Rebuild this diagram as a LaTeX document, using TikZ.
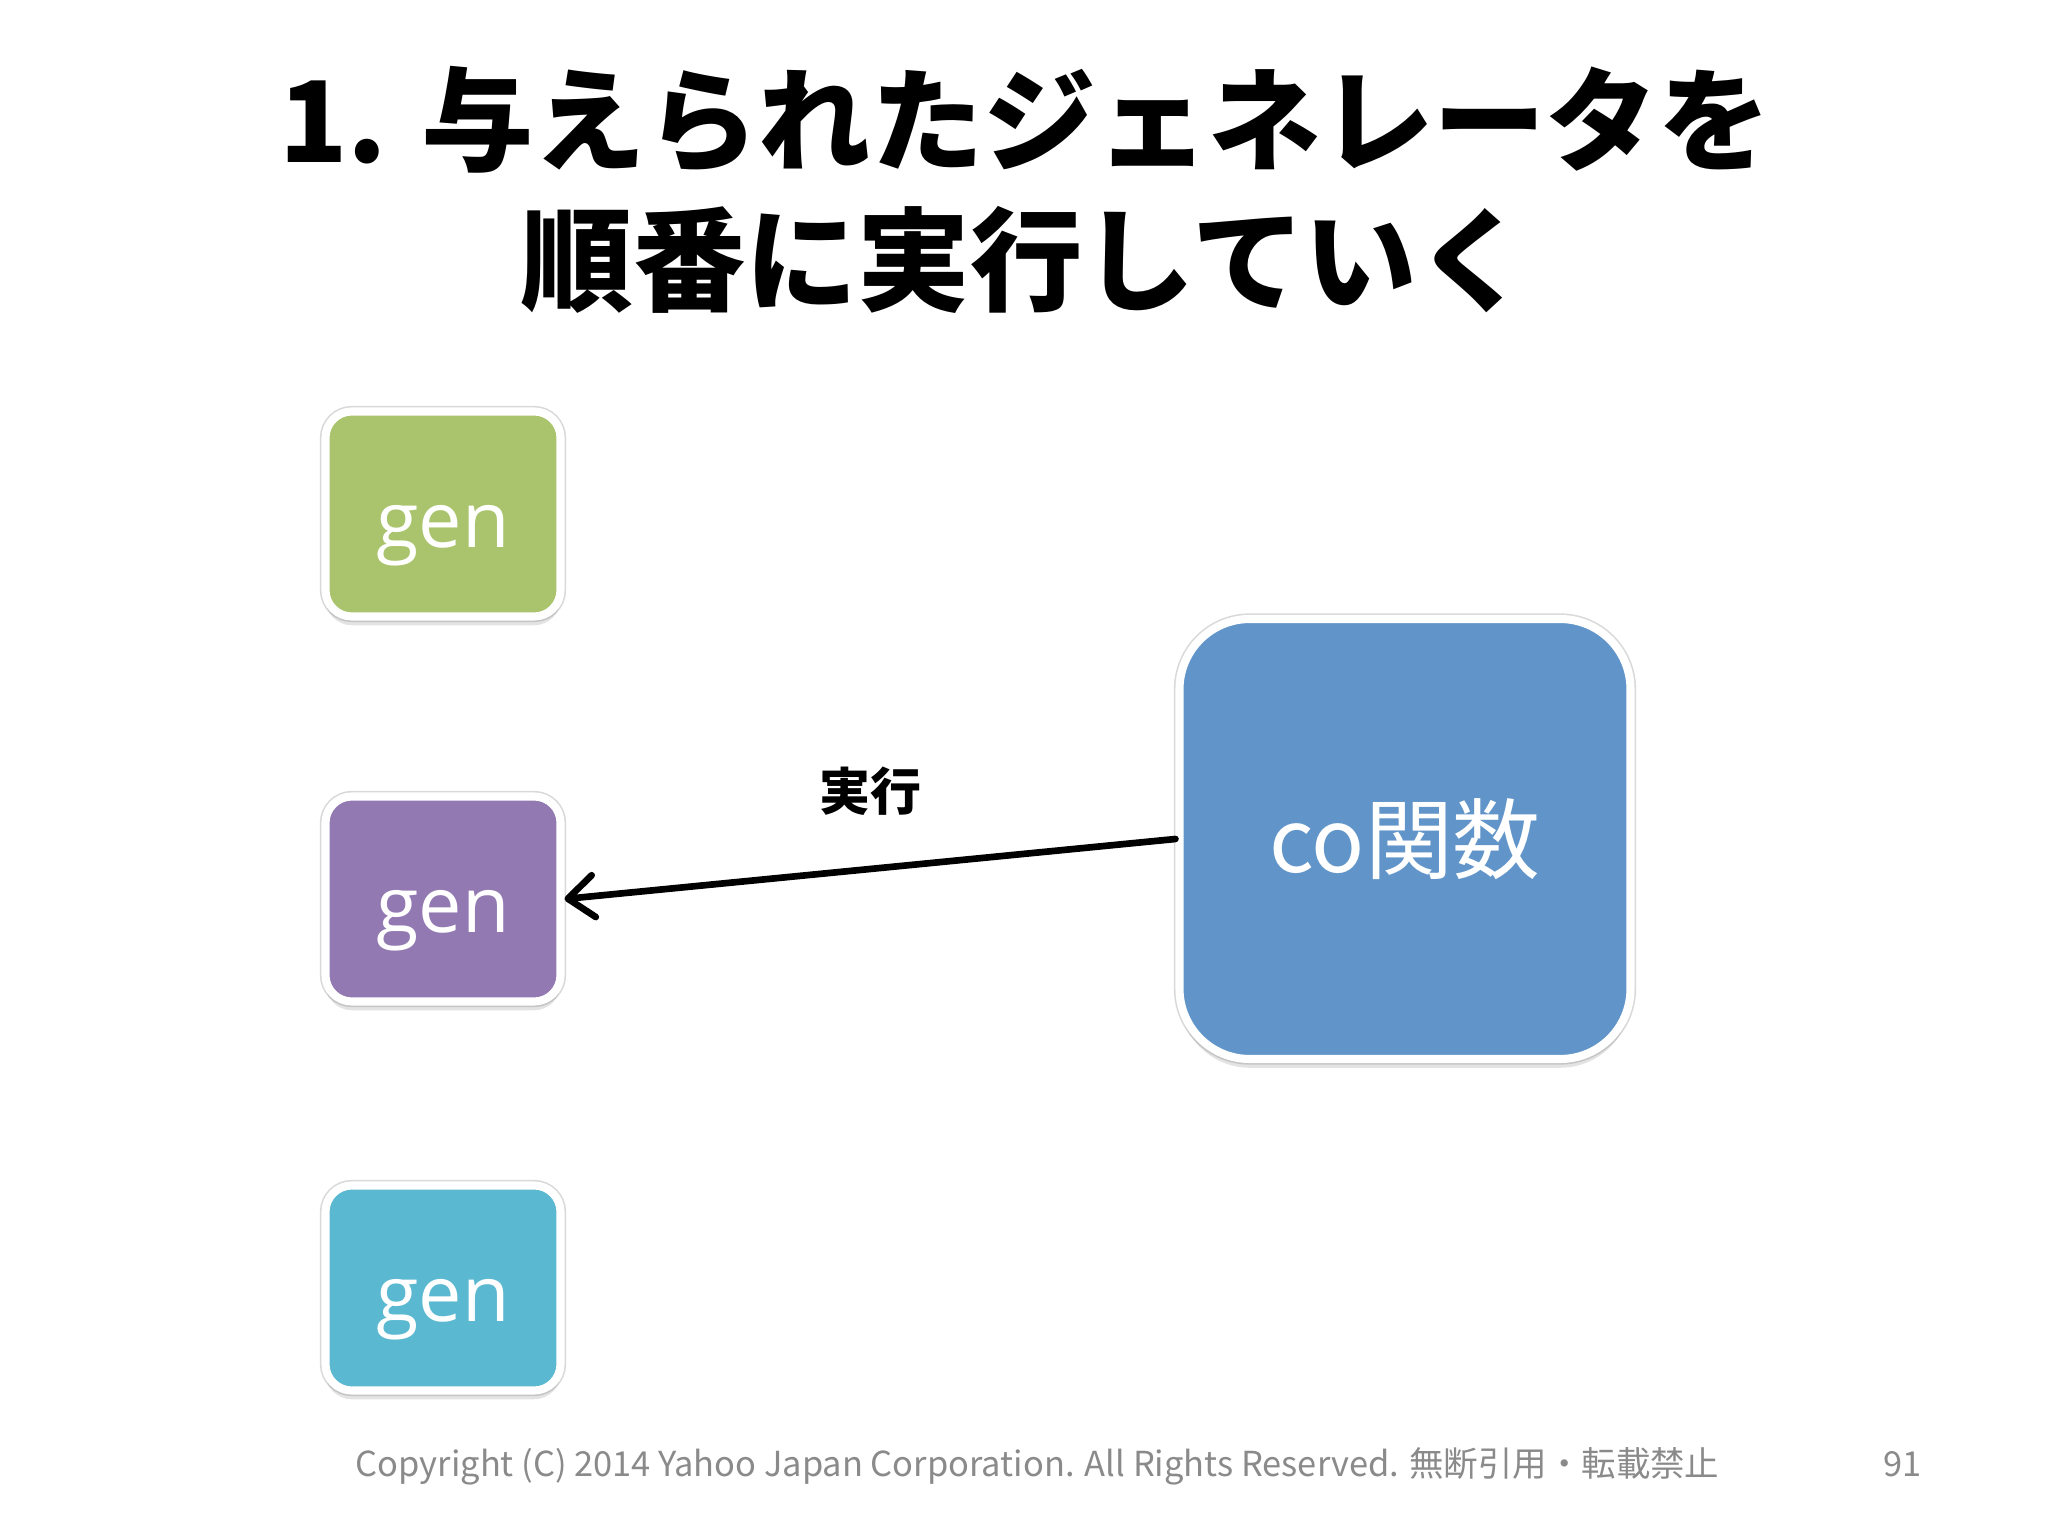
\documentclass[tikz,border=0pt]{standalone}
\usepackage{fontspec}
\setmainfont{Noto Sans CJK JP}
\newfontfamily\genfont{Open Sans}
\usepackage{tikz}
\usetikzlibrary{arrows.meta,shadows}
\definecolor{gengreen}{HTML}{A9C46C}
\definecolor{genpurple}{HTML}{9279B2}
\definecolor{gencyan}{HTML}{5AB8D1}
\definecolor{coblue}{HTML}{6195C9}
\definecolor{footgray}{HTML}{8A8A8A}

\begin{document}
\begin{tikzpicture}[
  genbox/.style={rectangle, draw=white, line width=2.3pt, rounded corners=7.5pt,
    minimum width=2.35cm, minimum height=2.05cm, text=white,
    text height=20pt, text depth=1.2pt,
    font=\genfont\fontsize{22}{22}\selectfont,
    preaction={draw=black!15, line width=3.2pt},
    drop shadow={shadow xshift=0pt, shadow yshift=-2.5pt, opacity=0.22}},
  cobox/.style={rectangle, draw=white, line width=2.3pt, rounded corners=20pt,
    minimum width=4.51cm, minimum height=4.40cm, text=white, fill=coblue,
    font=\fontsize{25}{25}\selectfont,
    preaction={draw=black!15, line width=3.2pt},
    drop shadow={shadow xshift=0pt, shadow yshift=-2.5pt, opacity=0.22}},
  foot/.style={text=footgray, font=\fontsize{9.8}{9.8}\selectfont, inner sep=0pt},
  >={Straight Barb[length=2.6mm, width=4.2mm, line cap=round, line join=round]},
]
  \useasboundingbox (0,0) rectangle (20.48,-15.36);

  \node[align=center, font=\bfseries\fontsize{32}{40}\selectfont] (title) at (10.25,-1.90)
    {1. 与えられたジェネレータを\\順番に実行していく};

  \node[genbox, fill=gengreen] (gen1) at (4.43,-5.14) {gen};
  \node[genbox, fill=genpurple] (gen2) at (4.43,-8.99) {gen};
  \node[genbox, fill=gencyan] (gen3) at (4.43,-12.88) {gen};

  \node[cobox] (co) at (14.05,-8.39) {co関数};

  \draw[->, line width=1.9pt, line cap=round] (co.west) --
    node[midway, above=3.8mm, font=\bfseries\fontsize{14.5}{14.5}\selectfont] (exec) {実行} (gen2.east);

  \node[foot, anchor=base west] (copy) at (3.55,-14.76)
    {Copyright (C) 2014 Yahoo Japan Corporation. All Rights Reserved. 無断引用・転載禁止};
  \node[foot, anchor=base east] (page) at (19.22,-14.76) {91};
\end{tikzpicture}
\end{document}
